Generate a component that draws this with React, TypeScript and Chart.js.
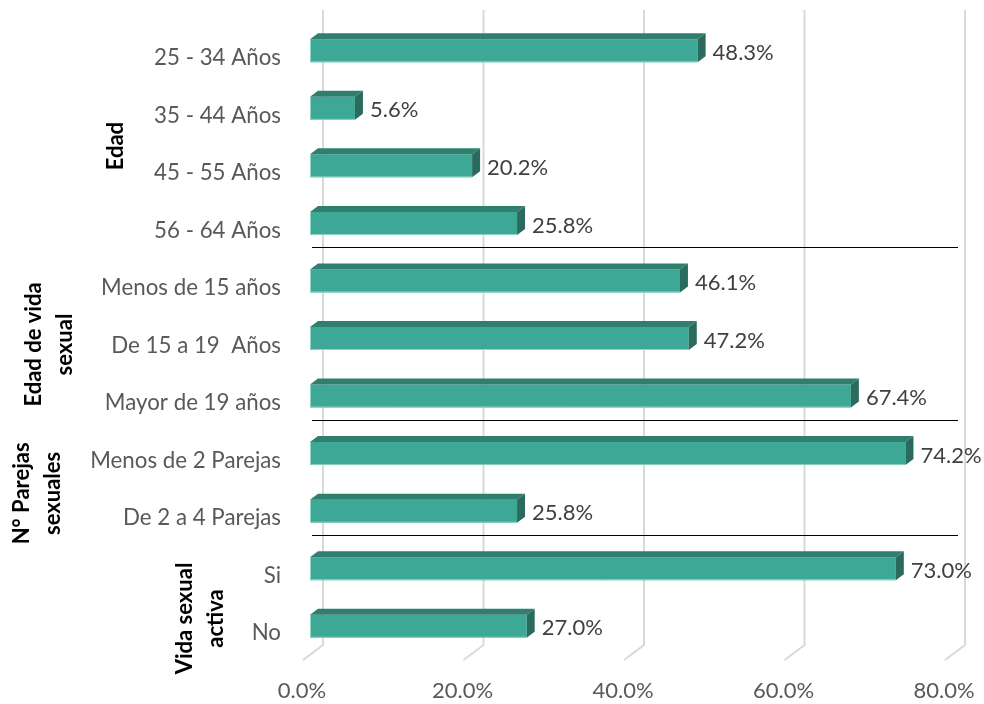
import React, { useEffect, useRef } from "react";
import { Chart, registerables } from "chart.js";

Chart.register(...registerables);

const categories = [
  "25 - 34 Años",
  "35 - 44 Años",
  "45 - 55 Años",
  "56 - 64 Años",
  "Menos de 15 años",
  "De 15 a 19  Años",
  "Mayor de 19 años",
  "Menos de 2 Parejas",
  "De 2 a 4 Parejas",
  "Si",
  "No",
];
const values = [48.3, 5.6, 20.2, 25.8, 46.1, 47.2, 67.4, 74.2, 25.8, 73.0, 27.0];
const groupNames = [["Edad"], ["Edad de vida", "sexual"], ["N° Parejas", "sexuales"], ["Vida sexual", "activa"]];
const groupCounts = [4, 3, 2, 2];
const xTicks = [0, 20, 40, 60, 80];

// layout (pixels)
const groupLabelX = [116, 49, 37, 200];
const groupLabelDY = [9, 6, 11, 21];
const DEPTH_X = 8;
const DEPTH_Y = 6;
const FONT = "Lato, 'Open Sans', sans-serif";

const App = () => {
  const ref = useRef<HTMLCanvasElement | null>(null);
  useEffect(() => {
    if (!ref.current) return;

    const gridPlugin = {
      id: "grid3d",
      beforeDatasetsDraw(chart: any) {
        const ctx = chart.ctx;
        const xs = chart.scales.x;
        const ca = chart.chartArea;
        ctx.save();
        ctx.strokeStyle = "#d9d9d9";
        ctx.lineWidth = 2;
        xTicks.forEach((v) => {
          const fx = xs.getPixelForValue(v);
          ctx.beginPath();
          ctx.moveTo(fx + 13, ca.top - 12);
          ctx.lineTo(fx + 13, ca.bottom - 10);
          ctx.lineTo(fx - 7, ca.bottom + 5);
          ctx.stroke();
        });
        ctx.restore();
      },
    };

    const barsPlugin = {
      id: "bars3d",
      afterDatasetsDraw(chart: any) {
        const ctx = chart.ctx;
        const meta = chart.getDatasetMeta(0);
        ctx.save();
        meta.data.forEach((el: any, i: number) => {
          const { x, y, base, height } = el.getProps(["x", "y", "base", "height"], true);
          const top = y - height / 2;
          const bot = y + height / 2;
          ctx.fillStyle = "#2f7e6e";
          ctx.beginPath();
          ctx.moveTo(base, top);
          ctx.lineTo(base + DEPTH_X, top - DEPTH_Y);
          ctx.lineTo(x + DEPTH_X, top - DEPTH_Y);
          ctx.lineTo(x, top);
          ctx.closePath();
          ctx.fill();
          ctx.fillStyle = "#2a6b5e";
          ctx.beginPath();
          ctx.moveTo(x, top);
          ctx.lineTo(x + DEPTH_X, top - DEPTH_Y);
          ctx.lineTo(x + DEPTH_X, bot - DEPTH_Y);
          ctx.lineTo(x, bot);
          ctx.closePath();
          ctx.fill();
          ctx.strokeStyle = "#8fd3c5";
          ctx.lineWidth = 1;
          ctx.beginPath();
          ctx.moveTo(base + 0.5, top);
          ctx.lineTo(base + 0.5, bot - 0.5);
          ctx.lineTo(x, bot - 0.5);
          ctx.stroke();
          ctx.fillStyle = "#404040";
          ctx.font = `22px ${FONT}`;
          ctx.textAlign = "left";
          ctx.textBaseline = "middle";
          ctx.fillText(values[i].toFixed(1) + "%", x + DEPTH_X + 7, y + 2);
        });
        ctx.restore();
      },
    };

    const groupPlugin = {
      id: "groups",
      afterDraw(chart: any) {
        const ctx = chart.ctx;
        const ys = chart.scales.y;
        const ca = chart.chartArea;
        ctx.save();
        let idx = 0;
        groupCounts.forEach((n, g) => {
          const first = idx;
          const last = idx + n - 1;
          if (g < groupCounts.length - 1) {
            const yb = (ys.getPixelForValue(last) + ys.getPixelForValue(last + 1)) / 2 - 5;
            ctx.strokeStyle = "#000000";
            ctx.lineWidth = 1;
            ctx.beginPath();
            ctx.moveTo(ca.left + 2, Math.round(yb) + 0.5);
            ctx.lineTo(ca.right + 6, Math.round(yb) + 0.5);
            ctx.stroke();
          }
          const cy = (ys.getPixelForValue(first) + ys.getPixelForValue(last)) / 2 + groupLabelDY[g];
          const cx = groupLabelX[g];
          const lines = groupNames[g];
          ctx.save();
          ctx.translate(cx, cy);
          ctx.rotate(-Math.PI / 2);
          ctx.fillStyle = "#000000";
          ctx.font = `bold 22px ${FONT}`;
          ctx.textAlign = "center";
          ctx.textBaseline = "middle";
          lines.forEach((t, k) => {
            ctx.fillText(t, 0, (k - (lines.length - 1) / 2) * 31);
          });
          ctx.restore();
          idx += n;
        });
        ctx.restore();
      },
    };

    const chart = new Chart(ref.current, {
      type: "bar",
      data: {
        labels: categories,
        datasets: [
          {
            data: values,
            backgroundColor: "#3da895",
            borderWidth: 0,
            barPercentage: 0.4,
            categoryPercentage: 1,
          },
        ],
      },
      options: {
        indexAxis: "y",
        animation: false,
        responsive: false,
        maintainAspectRatio: false,
        layout: { padding: { left: 0, top: 22, right: 32, bottom: 0 } },
        plugins: { legend: { display: false }, tooltip: { enabled: false } },
        scales: {
          x: {
            min: 0,
            max: 80,
            grid: { display: false, drawTicks: false },
            border: { display: false },
            ticks: {
              stepSize: 20,
              padding: 23,
              labelOffset: -8,
              color: "#595959",
              font: { family: FONT, size: 22 },
              callback: (v: any) => Number(v).toFixed(1) + "%",
            },
            afterFit: (s: any) => {
              s.height = 49;
              s.paddingLeft = 0;
              s.paddingRight = 0;
              s.paddingTop = 0;
              s.paddingBottom = 0;
            },
          },
          y: {
            grid: { display: false, drawTicks: false },
            border: { display: false },
            ticks: {
              padding: 29,
              labelOffset: 7,
              color: "#595959",
              font: { family: FONT, size: 22.3 },
              autoSkip: false,
            },
            afterFit: (s: any) => {
              s.width = 310;
              s.paddingLeft = 0;
              s.paddingRight = 0;
              s.paddingTop = 0;
              s.paddingBottom = 0;
            },
          },
        },
      },
      plugins: [gridPlugin, barsPlugin, groupPlugin],
    });
    return () => chart.destroy();
  }, []);

  return (
    <div style={{ position: "fixed", left: 0, top: 0, width: 984, height: 704, background: "#fff" }}>
      <canvas ref={ref} width={984} height={704} style={{ display: "block" }} />
    </div>
  );
};

export default App;
